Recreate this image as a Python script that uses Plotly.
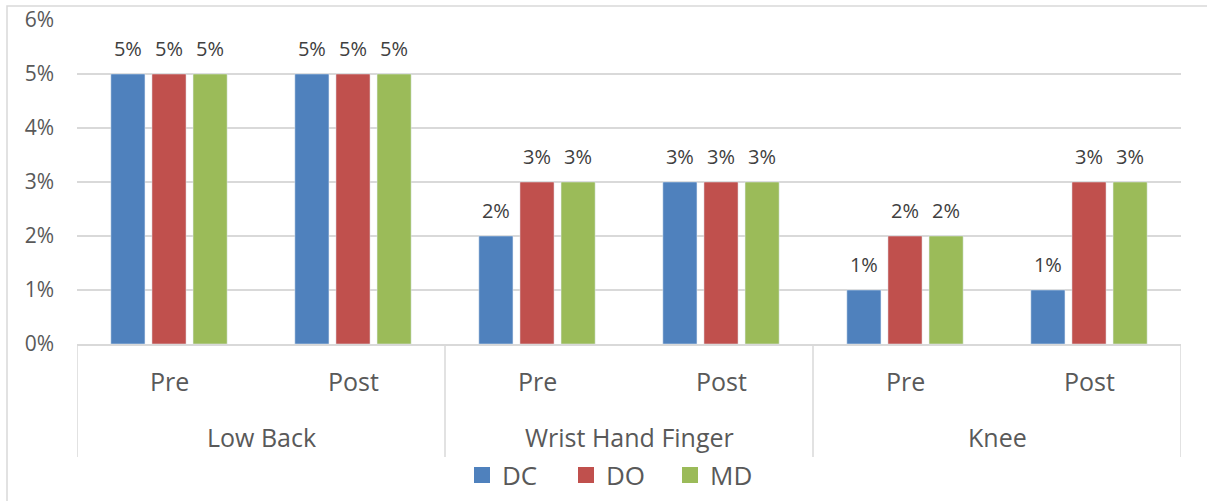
import plotly.graph_objects as go

groups = ["Low Back", "Wrist Hand Finger", "Knee"]
phases = ["Pre", "Post"]
series = ["DC", "DO", "MD"]
colors = {"DC": "#4F81BD", "DO": "#C0504D", "MD": "#9BBB59"}

# values per (group, phase): Low Back Pre, Low Back Post, WHF Pre, WHF Post, Knee Pre, Knee Post
DC = [0.05, 0.05, 0.02, 0.03, 0.01, 0.01]
DO = [0.05, 0.05, 0.03, 0.03, 0.02, 0.03]
MD = [0.05, 0.05, 0.03, 0.03, 0.02, 0.03]
values = {"DC": DC, "DO": DO, "MD": MD}

y_ticks = [0, 0.01, 0.02, 0.03, 0.04, 0.05, 0.06]

cats = [(g, p) for g in groups for p in phases]
xpos = list(range(len(cats)))

FONT = "Open Sans"
TXT = "#595959"
GRID = "#D9D9D9"

fig = go.Figure()
for s in series:
    fig.add_trace(go.Bar(
        x=xpos, y=values[s], name=s, marker_color=colors[s],
        offsetgroup=s, showlegend=False, hoverinfo="skip",
    ))
for s in series:
    fig.add_trace(go.Scatter(
        x=xpos, y=values[s], mode="markers+text", offsetgroup=s,
        text=[f"{v*100:.0f}%" for v in values[s]], textposition="top center",
        textfont=dict(family=FONT, size=20, color="#404040"),
        marker=dict(size=19, color="rgba(0,0,0,0)"),
        showlegend=False, hoverinfo="skip", cliponaxis=False,
    ))
for s in series:
    fig.add_trace(go.Scatter(
        x=[None], y=[None], mode="markers", name=s,
        marker=dict(symbol="square", size=18, color=colors[s]),
    ))

# plot area geometry (pixels) used for paper-coordinate placement
L, R, T, B = 77, 1181, 20, 344
W, H = R - L, B - T
def py(p):
    return (B - p) / H
def px(p):
    return (p - L) / W

annotations = []
for i, (g, p) in enumerate(cats):
    annotations.append(dict(x=i, y=py(381), xref="x", yref="paper", text=p, showarrow=False,
                            font=dict(family=FONT, size=25, color=TXT), yanchor="middle"))
for j, g in enumerate(groups):
    annotations.append(dict(x=2 * j + 0.5, y=py(437), xref="x", yref="paper", text=g, showarrow=False,
                            font=dict(family=FONT, size=25, color=TXT), yanchor="middle"))

shapes = []
for k in range(len(groups) + 1):
    shapes.append(dict(type="line", xref="x", yref="paper", x0=2 * k - 0.5, x1=2 * k - 0.5,
                       y0=0, y1=py(457), line=dict(color=GRID, width=1.5)))
shapes.append(dict(type="rect", xref="paper", yref="paper", x0=px(7), x1=px(1230), y0=py(6), y1=py(520),
                   line=dict(color=GRID, width=1.5)))

fig.update_layout(
    width=1207, height=501,
    margin=dict(l=L, r=1207 - R, t=T, b=501 - B, autoexpand=False),
    paper_bgcolor="white", plot_bgcolor="white",
    barmode="group", bargap=0.33, bargroupgap=0.17,
    scattermode="group", scattergap=0.33,
    font=dict(family=FONT, color=TXT),
    xaxis=dict(range=[-0.5, 5.5], showticklabels=False, showgrid=False, zeroline=False,
               showline=True, linecolor=GRID, linewidth=1.5, ticks=""),
    yaxis=dict(range=[0, 0.06], tickvals=y_ticks, tickformat=".0%", showgrid=True, gridcolor=GRID,
               gridwidth=1.5, zeroline=False, showline=False, ticks="", ticklabelstandoff=22,
               tickfont=dict(family=FONT, size=21, color=TXT)),
    legend=dict(orientation="h", x=px(462), xanchor="left", y=py(475), yanchor="middle",
                font=dict(family=FONT, size=26, color=TXT), entrywidth=59, itemclick=False),
    annotations=annotations, shapes=shapes,
)

fig.write_html("out.html", config={"displayModeBar": False},
               post_script="document.body.style.margin='0px';document.body.style.overflow='hidden';")
